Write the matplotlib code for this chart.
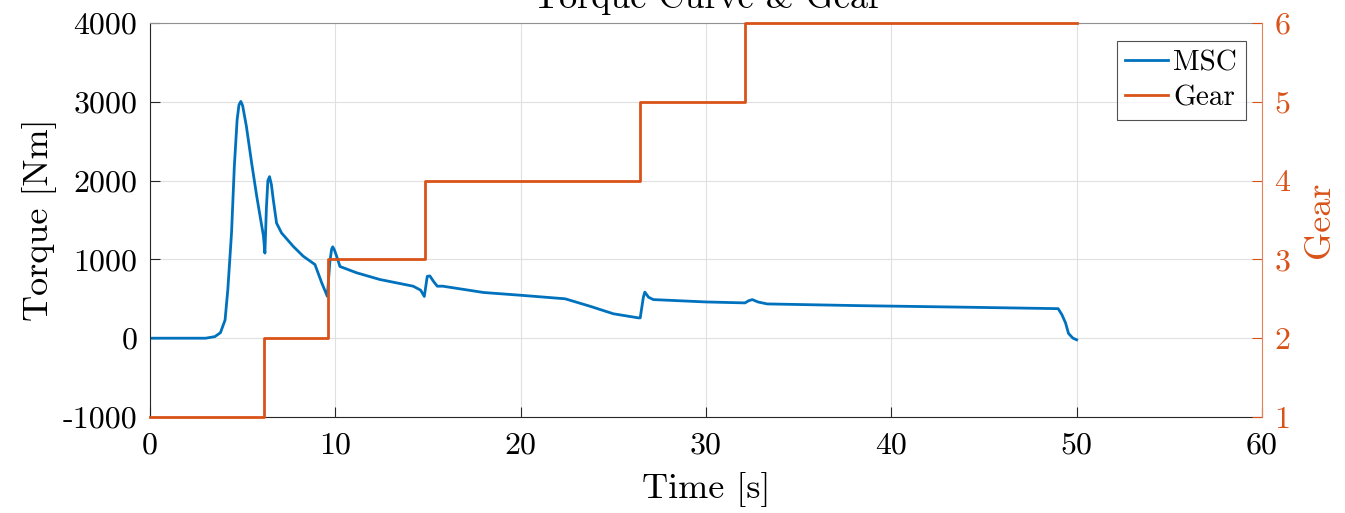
import matplotlib
matplotlib.use("Agg")
import matplotlib.pyplot as plt

plt.rcParams['font.family'] = ['cmr10', 'DejaVu Serif']
plt.rcParams['axes.unicode_minus'] = False
plt.rcParams['mathtext.fontset'] = 'cm'

# MSC torque trace
time_msc = [0.0, 3.0, 3.5, 3.8, 4.05, 4.2, 4.4, 4.55, 4.7, 4.8, 4.9, 5.0, 5.2, 5.48, 5.76,
            6.0, 6.12, 6.2, 6.28, 6.36, 6.45, 6.55, 6.65, 6.83, 7.1, 7.73, 8.27,
            8.9, 9.27, 9.57, 9.7, 9.8, 9.86, 9.95, 10.07, 10.25, 11.15, 12.4,
            14.2, 14.6, 14.8, 14.96, 15.1, 15.3, 15.5, 15.8, 18.0, 20.0, 22.4,
            23.75, 25.0, 26.35, 26.45, 26.62, 26.7, 26.9, 27.16, 30.0, 32.1,
            32.3, 32.5, 32.8, 33.3, 38.3, 44.1, 49.0, 49.2, 49.4, 49.56, 49.8, 50.0]
torque_msc = [0, 0, 20, 70, 230, 620, 1340, 2180, 2770, 2960, 3005, 2950, 2690, 2230, 1800,
              1465, 1300, 1080, 1650, 2000, 2050, 1950, 1760, 1460, 1335, 1165, 1040,
              935, 700, 530, 960, 1130, 1160, 1120, 1040, 910, 830, 745,
              660, 610, 530, 785, 790, 720, 660, 660, 580, 545, 500,
              405, 310, 258, 258, 520, 585, 520, 490, 460, 448,
              475, 490, 460, 435, 413, 393, 375, 300, 194, 60, 0, -20]

# gear changes
gear_time = [0.0, 6.15, 9.6, 14.85, 26.45, 32.1, 50.0]
gear_values = [1, 2, 3, 4, 5, 6, 6]

blue = '#0072BD'
orange = '#D95319'

fig = plt.figure(figsize=(13.45, 5.13), dpi=100)
ax = fig.add_axes([150 / 1345, 96 / 513, 1112 / 1345, 394 / 513])
ax2 = ax.twinx()

l1, = ax.plot(time_msc, torque_msc, color=blue, lw=2.0, label='MSC')
l2, = ax2.step(gear_time, gear_values, where='post', color=orange, lw=2.0,
               label='Gear', clip_on=False)

ax.set_xlim(0, 60)
ax.set_ylim(-1000, 4000)
ax2.set_ylim(1, 6)
ax.set_xticks(range(0, 61, 10))
ax.set_yticks(range(-1000, 4001, 1000))
ax2.set_yticks(range(1, 7))

ax.grid(True, color='#e0e0e0', lw=0.8)
ax.set_axisbelow(True)

ax.tick_params(direction='in', labelsize=23, length=7, color='#262626', pad=9)
ax2.tick_params(direction='in', labelsize=23, length=7, colors=orange, pad=9)
ax.tick_params(axis='x', pad=11)

for s in ['bottom', 'left']:
    ax.spines[s].set_color('#262626')
ax.spines['top'].set_color('#909090')
ax.spines['right'].set_visible(False)
ax2.spines['right'].set_color('#E8815A')
for s in ['top', 'left', 'bottom']:
    ax2.spines[s].set_visible(False)

ax.set_xlabel('Time [s]', fontsize=26, labelpad=9)
ax.set_ylabel('Torque [Nm]', fontsize=26, labelpad=4)
ax2.set_ylabel('Gear', fontsize=26, color=orange, labelpad=10)

fig.text(0.526, 1 - 8 / 513, 'Torque Curve & Gear', fontsize=26,
         ha='center', va='baseline')

leg = ax.legend([l1, l2], ['MSC', 'Gear'], loc='upper right', fontsize=21,
                frameon=True, fancybox=False, edgecolor='#262626',
                handlelength=1.45, handletextpad=0.2, borderpad=0.3,
                labelspacing=0.3, borderaxespad=0,
                bbox_to_anchor=(1096 / 1112, 1 - 18 / 394))
leg.get_frame().set_linewidth(0.8)

fig.savefig('out.png', dpi=100)
